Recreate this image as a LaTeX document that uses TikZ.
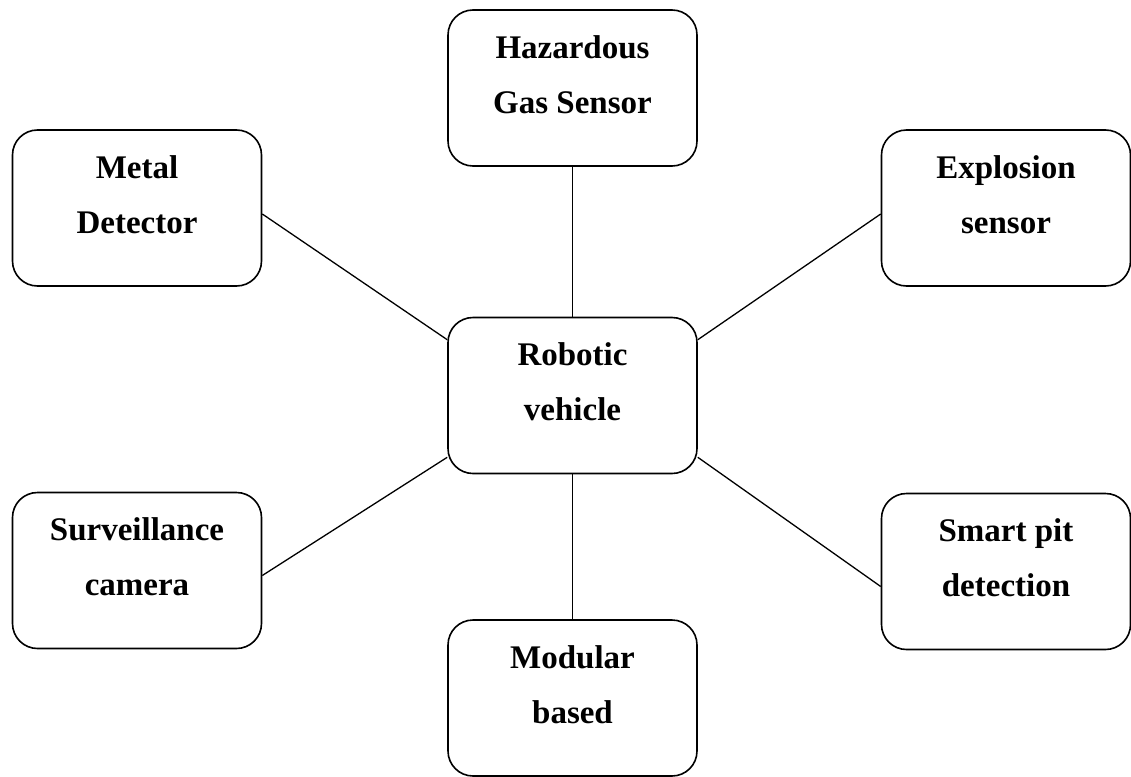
\documentclass[tikz,border=0pt]{standalone}
\usepackage{fontspec}
\setmainfont{Liberation Serif}
\begin{document}
\begin{tikzpicture}[x=1pt,y=-1pt,
    unit/.style={draw,line width=1.6pt,rounded corners=25pt,
      minimum width=249pt,minimum height=156pt,align=center,
      font=\bfseries\fontsize{33}{55}\selectfont,text depth=27pt},
    link/.style={line width=1.3pt}]
  \useasboundingbox (0,0) rectangle (1131,776);
  \draw
    (572.5,88) node[unit] (gas){Hazardous\\Gas Sensor}
    (137,208) node[unit] (metal){Metal\\Detector}
    (1006,208) node[unit] (explosion){Explosion\\sensor}
    (572.5,395.5) node[unit] (robot){Robotic\\vehicle}
    (137,570.5) node[unit] (camera){Surveillance\\camera}
    (1006,571.5) node[unit] (pit){Smart pit\\detection}
    (572.5,698) node[unit] (modular){Modular\\based};
  \begin{scope}[link]
    \draw (gas) to (robot);
    \draw (robot) to (modular);
    \draw ([yshift=-6pt]metal.east) to ([yshift=-23pt]robot.north west);
    \draw ([yshift=-6pt]explosion.west) to ([yshift=-23pt]robot.north east);
    \draw ([yshift=-5pt]camera.east) to ([yshift=17pt]robot.south west);
    \draw ([yshift=-15pt]pit.west) to ([yshift=17pt]robot.south east);
  \end{scope}
\end{tikzpicture}
\end{document}
